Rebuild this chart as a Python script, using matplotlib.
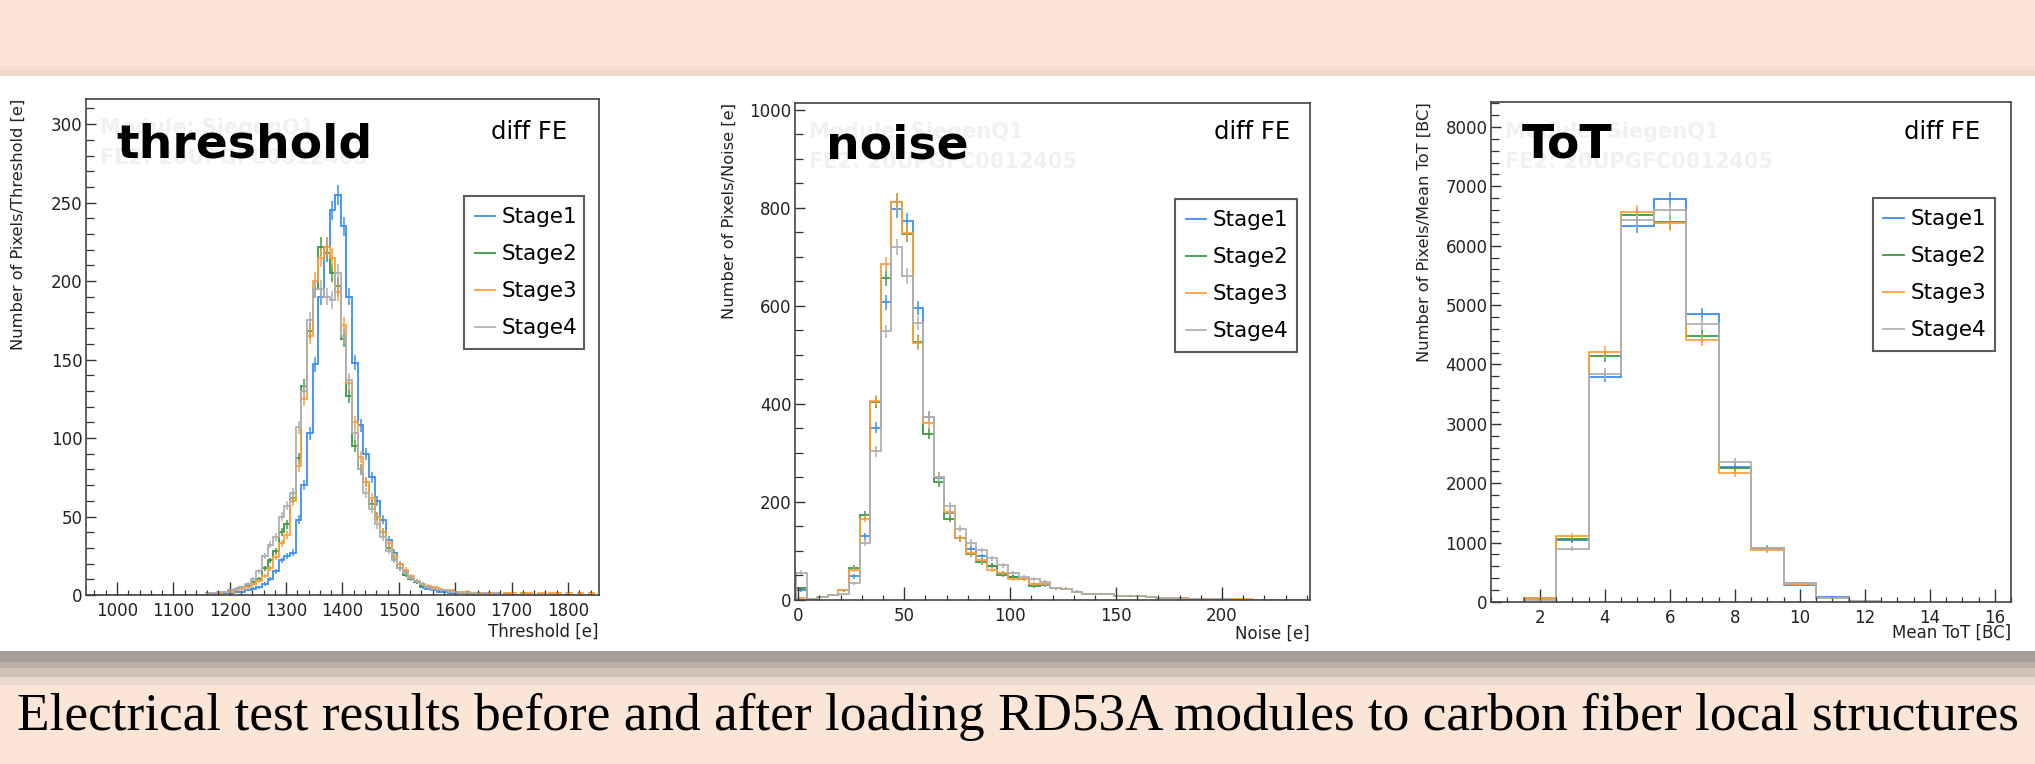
import numpy as np
import matplotlib
matplotlib.use("Agg")
import matplotlib.pyplot as plt
from matplotlib.lines import Line2D

# ---- data ----
stages = ["Stage1", "Stage2", "Stage3", "Stage4"]
stage_colors = ["#3d8ff2", "#3a9a45", "#ffa040", "#b0b0b0"]

# threshold: 10 e bins starting at 947 e
thr_start, thr_width = 947, 10
thr_stage1 = [0] * 20 + [0, 1, 0, 1, 1, 1, 2, 2, 3, 4,
              5, 7, 10, 15, 22, 25, 27, 48, 70, 103,
              147, 190, 222, 245, 255, 235, 190, 148, 108, 90,
              75, 60, 48, 35, 27, 20, 15, 11, 8, 5,
              4, 3, 2, 2, 1, 1, 1, 1, 0, 1,
              0, 1, 0, 0, 0, 0, 0, 0, 0, 0,
              0, 0, 0, 0, 0, 0, 0, 0, 0, 0]
thr_stage2 = [0] * 20 + [0, 1, 1, 1, 2, 3, 4, 5, 6, 8,
              10, 17, 22, 28, 40, 45, 62, 87, 133, 168,
              195, 222, 218, 205, 197, 163, 127, 95, 80, 72,
              58, 50, 40, 30, 23, 17, 13, 10, 8, 6,
              5, 4, 3, 3, 2, 2, 1, 2, 1, 1,
              1, 0, 1, 0, 1, 0, 0, 1, 0, 0,
              0, 0, 0, 0, 0, 0, 0, 0, 0, 0]
thr_stage3 = [0] * 20 + [0, 0, 1, 1, 2, 2, 3, 4, 5, 7,
              9, 12, 17, 24, 33, 38, 60, 82, 125, 165,
              200, 215, 222, 215, 193, 172, 135, 110, 88, 72,
              62, 50, 40, 33, 25, 20, 16, 12, 9, 7,
              6, 5, 4, 3, 3, 2, 2, 2, 1, 1,
              1, 1, 1, 0, 1, 1, 0, 1, 1, 0,
              1, 0, 1, 1, 0, 1, 0, 1, 0, 1]
thr_stage4 = [0] * 20 + [0, 1, 1, 2, 2, 3, 4, 5, 7, 10,
              15, 25, 32, 37, 50, 57, 65, 107, 130, 175,
              195, 195, 190, 188, 205, 165, 137, 103, 80, 65,
              55, 45, 37, 28, 22, 17, 14, 11, 9, 7,
              5, 4, 3, 3, 2, 2, 1, 1, 1, 0,
              1, 0, 1, 0, 0, 0, 0, 0, 0, 0,
              0, 0, 0, 0, 0, 0, 0, 0, 0, 0]

# noise: 5 e bins starting at -1 e
noise_start, noise_width = -1, 5
noise_stage1 = [20, 3, 7, 11, 20, 48, 130, 351, 607, 797, 773, 596, 374, 248, 177, 126,
                104, 89, 70, 55, 47, 43, 32, 30, 24, 23, 17, 13, 12, 13, 9, 9,
                8, 7, 5, 4, 4, 3, 3, 2, 2, 2, 1, 1, 1, 1, 0, 0]
noise_stage2 = [24, 3, 7, 11, 20, 66, 173, 404, 657, 813, 746, 526, 339, 240, 166, 126,
                94, 77, 70, 52, 47, 43, 28, 33, 24, 23, 17, 13, 12, 12, 9, 8,
                8, 7, 5, 4, 3, 3, 2, 2, 2, 1, 1, 1, 1, 0, 0, 0]
noise_stage3 = [5, 3, 7, 11, 20, 62, 166, 407, 685, 813, 748, 524, 361, 251, 180, 126,
                96, 81, 62, 55, 43, 43, 33, 33, 24, 23, 17, 13, 12, 13, 9, 9,
                8, 7, 5, 4, 4, 3, 3, 3, 2, 2, 2, 1, 1, 1, 1, 0]
noise_stage4 = [56, 3, 7, 11, 13, 34, 117, 303, 548, 720, 661, 566, 373, 251, 191, 145,
                117, 101, 85, 71, 55, 47, 43, 37, 24, 23, 17, 13, 12, 13, 9, 9,
                8, 7, 5, 4, 3, 3, 2, 2, 2, 1, 1, 1, 1, 0, 0, 0]

# mean ToT: 1 BC bins centred on 2..12
tot_start, tot_width = 1.5, 1
tot_stage1 = [45, 1040, 3794, 6337, 6781, 4844, 2281, 887, 294, 87, 12]
tot_stage2 = [60, 1056, 4137, 6512, 6400, 4475, 2250, 912, 312, 62, 12]
tot_stage3 = [75, 1106, 4212, 6562, 6375, 4419, 2169, 875, 300, 62, 12]
tot_stage4 = [30, 900, 3844, 6437, 6594, 4687, 2356, 912, 312, 62, 12]

caption = "Electrical test results before and after loading RD53A modules to carbon fiber local structures"

W, H = 2035, 764
fig = plt.figure(figsize=(W / 100, H / 100), dpi=100)
fig.patch.set_facecolor("white")

# slide background bands (pixel coordinates, y downwards)
bg = fig.add_axes([0, 0, 1, 1], zorder=-10)
bg.set_xlim(0, W)
bg.set_ylim(H, 0)
bg.axis("off")
pink = "#fbe5d7"
bands = [(0, 66, pink), (66, 71, "#f6dfd0"), (71, 76, "#f0d8c9"),
         (651, 662, "#a99e96"), (662, 668, "#bbaea5"), (668, 677, "#d2c3b9"),
         (677, 685, "#e8d7cc"), (685, H, pink)]
for y0, y1, c in bands:
    bg.axhspan(y0, y1, color=c, lw=0)
bg.text(W / 2, 730, caption, ha="center", va="baseline", fontsize=38.3,
        family="Liberation Serif", color="black")


def frac(l, t, r, b):
    return [l / W, (H - b) / H, (r - l) / W, (b - t) / H]


panels = [
    dict(rect=frac(86, 99, 599, 595), start=thr_start, width=thr_width,
         series=[thr_stage1, thr_stage2, thr_stage3, thr_stage4], errscale=0.4,
         xlim=(945, 1855), ylim=(0, 316), xmaj=100, xmin=20, ymaj=50, ymin=10,
         xlabel="Threshold [e]", ylabel="Number of Pixels/Threshold [e]",
         name="threshold", name_y=0.883, fe=(0.938, 0.919), xl_y=-0.056,
         yl_x=-0.117, leg=(0.737, 0.496, 0.234, 0.312)),
    dict(rect=frac(795, 103, 1310, 600), start=noise_start, width=noise_width,
         series=[noise_stage1, noise_stage2, noise_stage3, noise_stage4], errscale=0.6,
         xlim=(-1.5, 241.5), ylim=(0, 1014), xmaj=50, xmin=10, ymaj=200, ymin=50,
         xlabel="Noise [e]", ylabel="Number of Pixels/Noise [e]",
         name="noise", name_y=0.889, fe=(0.961, 0.928), xl_y=-0.05,
         yl_x=-0.113, leg=(0.738, 0.499, 0.237, 0.316)),
    dict(rect=frac(1491, 102, 2011, 602), start=tot_start, width=tot_width,
         series=[tot_stage1, tot_stage2, tot_stage3, tot_stage4], errscale=1.5,
         xlim=(0.5, 16.5), ylim=(0, 8420), xmaj=2, xmin=0.5, ymaj=1000, ymin=200,
         xlabel="Mean ToT [BC]", ylabel="Number of Pixels/Mean ToT [BC]",
         name="ToT", name_y=0.889, fe=(0.940, 0.926), xl_y=-0.044,
         yl_x=-0.113, leg=(0.734, 0.502, 0.235, 0.314)),
]

for p in panels:
    ax = fig.add_axes(p["rect"])
    for vals, lab, col in zip(p["series"], stages, stage_colors):
        vals = np.array(vals, dtype=float)
        edges = p["start"] + p["width"] * np.arange(len(vals) + 1)
        centers = 0.5 * (edges[:-1] + edges[1:])
        ax.stairs(vals, edges, color=col, lw=1.3, label=lab)
        nz = vals > 0
        ax.errorbar(centers[nz], vals[nz], yerr=p["errscale"] * np.sqrt(vals[nz]),
                    fmt="none", ecolor=col, elinewidth=1.1)
    ax.set_xlim(*p["xlim"])
    ax.set_ylim(*p["ylim"])
    ax.xaxis.set_major_locator(plt.MultipleLocator(p["xmaj"]))
    ax.xaxis.set_minor_locator(plt.MultipleLocator(p["xmin"]))
    ax.yaxis.set_major_locator(plt.MultipleLocator(p["ymaj"]))
    ax.yaxis.set_minor_locator(plt.MultipleLocator(p["ymin"]))
    ax.tick_params(axis="both", which="both", direction="in", colors="#333333",
                   labelcolor="#222222", top=False, right=False)
    ax.tick_params(axis="x", which="major", length=9.5, width=1.0, labelsize=12, pad=5)
    ax.tick_params(axis="x", which="minor", length=3.8, width=0.9)
    ax.tick_params(axis="y", which="major", length=7.5, width=1.0, labelsize=12, pad=2.5)
    ax.tick_params(axis="y", which="minor", length=5.5, width=0.9)
    for s in ax.spines.values():
        s.set_color("#444444")
        s.set_linewidth(1.2)
    ax.set_xlabel(p["xlabel"], loc="right", fontsize=12, color="#222222")
    ax.xaxis.set_label_coords(1.0, p["xl_y"])
    ax.set_ylabel(p["ylabel"], loc="top", fontsize=11.7, color="#222222")
    ax.yaxis.set_label_coords(p["yl_x"], 1.0)

    # faint module watermark, big overlay name and FE tag
    ax.text(0.027, 0.929, "Module: SiegenQ1", transform=ax.transAxes, fontsize=15,
            fontweight="bold", color="#f1f1f1", zorder=0)
    ax.text(0.027, 0.869, "FE2: 20UPGFC0012405", transform=ax.transAxes, fontsize=15,
            fontweight="bold", color="#f1f1f1", zorder=0)
    ax.text(0.06, p["name_y"], p["name"], transform=ax.transAxes, fontsize=34,
            fontweight="bold", color="black", va="baseline")
    ax.text(p["fe"][0], p["fe"][1], "diff FE", transform=ax.transAxes, fontsize=17.5,
            ha="right", va="baseline", color="black")

    handles = [Line2D([], [], color=c, lw=1.3) for c in stage_colors]
    leg = ax.legend(handles, stages, loc="lower left", bbox_to_anchor=p["leg"],
                    mode="expand", fontsize=15.5, frameon=True, fancybox=False,
                    borderpad=0.5, labelspacing=0.79, handlelength=0.95,
                    handletextpad=0.3, borderaxespad=0)
    leg.get_frame().set_edgecolor("#333333")
    leg.get_frame().set_linewidth(1.5)

fig.savefig("out.png", dpi=100, facecolor=fig.get_facecolor())
